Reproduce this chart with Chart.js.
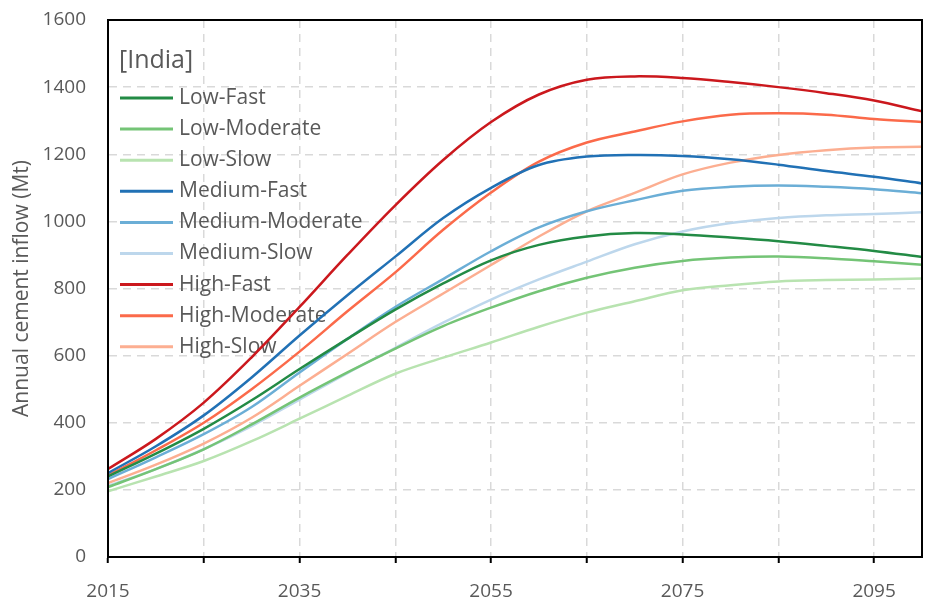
<!DOCTYPE html>
<html>
<head>
<meta charset="utf-8">
<script src="https://cdn.jsdelivr.net/npm/chart.js@4"></script>
<style>
  html, body { margin: 0; padding: 0; background: #fff; }
  #wrap { width: 930px; height: 607px; position: relative; }
</style>
</head>
<body>
<div id="wrap"><canvas id="chart"></canvas></div>
<script>
// years (every 5 years)
const years = [2015, 2020, 2025, 2030, 2035, 2040, 2045, 2050, 2055, 2060, 2065, 2070, 2075, 2080, 2085, 2090, 2095, 2100];

const lowFast = [240, 308, 382, 467, 560, 650, 737, 815, 884, 930, 955, 965, 961, 952, 941, 927, 912, 894];
const lowModerate = [208, 262, 321, 395, 475, 550, 621, 688, 743, 792, 832, 862, 882, 892, 895, 890, 881, 871];
const lowSlow = [196, 240, 286, 345, 412, 480, 546, 594, 639, 686, 728, 762, 795, 810, 821, 825, 827, 830];
const mediumFast = [250, 330, 422, 535, 660, 780, 895, 1010, 1100, 1168, 1193, 1198, 1195, 1185, 1169, 1150, 1133, 1113];
const mediumModerate = [232, 297, 366, 447, 550, 650, 745, 828, 911, 982, 1030, 1063, 1091, 1103, 1107, 1103, 1096, 1084];
const mediumSlow = [212, 262, 321, 390, 469, 548, 623, 698, 767, 827, 880, 932, 970, 995, 1010, 1018, 1022, 1027];
const highFast = [262, 352, 460, 595, 745, 900, 1048, 1183, 1296, 1378, 1422, 1432, 1427, 1415, 1400, 1382, 1360, 1328];
const highModerate = [243, 318, 400, 500, 612, 732, 848, 975, 1086, 1178, 1235, 1268, 1298, 1318, 1322, 1318, 1305, 1296];
const highSlow = [220, 275, 338, 415, 510, 605, 700, 785, 870, 955, 1030, 1085, 1140, 1175, 1198, 1212, 1220, 1222];

const seriesNames = ["Low-Fast", "Low-Moderate", "Low-Slow", "Medium-Fast", "Medium-Moderate", "Medium-Slow", "High-Fast", "High-Moderate", "High-Slow"];
const seriesValues = [lowFast, lowModerate, lowSlow, mediumFast, mediumModerate, mediumSlow, highFast, highModerate, highSlow];
const seriesColors = ["#238b45", "#74c476", "#b8e3b0", "#2171b5", "#6baed6", "#bdd7ec", "#cb181d", "#fb6a4a", "#fcae91"];

const xTicks = [2015, 2025, 2035, 2045, 2055, 2065, 2075, 2085, 2095];
const xLabels = [2015, 2035, 2055, 2075, 2095];

const textGray = "#595959";
const fontFam = "'Open Sans', Lato, sans-serif";

// legend drawn inside the plot, under the lines
const insideLegend = {
  id: "insideLegend",
  beforeDatasetsDraw(chart) {
    const ctx = chart.ctx;
    ctx.save();
    ctx.fillStyle = textGray;
    ctx.textBaseline = "middle";
    ctx.font = "25px " + fontFam;
    ctx.fillText("[India]", 119, 61);
    ctx.font = "21px " + fontFam;
    chart.data.datasets.forEach((ds, i) => {
      const y = 98 + i * 31.1;
      ctx.strokeStyle = ds.borderColor;
      ctx.lineWidth = 3;
      ctx.beginPath();
      ctx.moveTo(120, y);
      ctx.lineTo(173, y);
      ctx.stroke();
      ctx.fillStyle = textGray;
      ctx.fillText(ds.label, 179, y);
    });
    ctx.restore();
  },
};

// black frame round the plot area
const frame = {
  id: "frame",
  afterDraw(chart) {
    const a = chart.chartArea;
    const ctx = chart.ctx;
    ctx.save();
    ctx.strokeStyle = "#000";
    ctx.lineWidth = 2;
    ctx.strokeRect(a.left, a.top, a.right - a.left, a.bottom - a.top);
    ctx.restore();
  },
};

new Chart(document.getElementById("chart"), {
  type: "line",
  data: {
    datasets: seriesNames.map((name, i) => ({
      label: name,
      data: years.map((y, j) => ({ x: y, y: seriesValues[i][j] })),
      borderColor: seriesColors[i],
      backgroundColor: seriesColors[i],
      borderWidth: 2.5,
      pointRadius: 0,
      tension: 0.35,
    })),
  },
  options: {
    responsive: true,
    maintainAspectRatio: false,
    animation: false,
    layout: { padding: { left: 0, right: 8, top: 20, bottom: 0 } },
    plugins: {
      legend: { display: false },
      tooltip: { enabled: false },
    },
    scales: {
      x: {
        type: "linear",
        min: 2015,
        max: 2100,
        afterBuildTicks(scale) {
          scale.ticks = xTicks.map((v) => ({ value: v }));
        },
        afterFit(scale) {
          scale.height = 50;
        },
        ticks: {
          color: textGray,
          font: { family: fontFam, size: 19 },
          padding: 17,
          maxRotation: 0,
          autoSkip: false,
          callback: (v) => (xLabels.includes(v) ? String(v) : ""),
        },
        grid: {
          color: "#d9d9d9",
          lineWidth: 1.5,
          tickColor: "#000",
          tickLength: 6,
          tickWidth: 2,
        },
        border: { color: "#000", width: 2, dash: [8, 6] },
      },
      y: {
        min: 0,
        max: 1600,
        afterFit(scale) {
          scale.width = 108;
        },
        ticks: {
          stepSize: 200,
          color: textGray,
          font: { family: fontFam, size: 19 },
          padding: 4,
          callback: (v) => String(v),
        },
        grid: {
          color: "#d9d9d9",
          lineWidth: 1.5,
          drawTicks: true,
          tickLength: 18,
          tickColor: "rgba(0,0,0,0)",
        },
        border: { color: "#000", width: 2, dash: [8, 6] },
        title: {
          display: true,
          text: "Annual cement inflow (Mt)",
          color: textGray,
          font: { family: fontFam, size: 21 },
          padding: { top: 9, bottom: 0 },
        },
      },
    },
  },
  plugins: [insideLegend, frame],
});
</script>
</body>
</html>
